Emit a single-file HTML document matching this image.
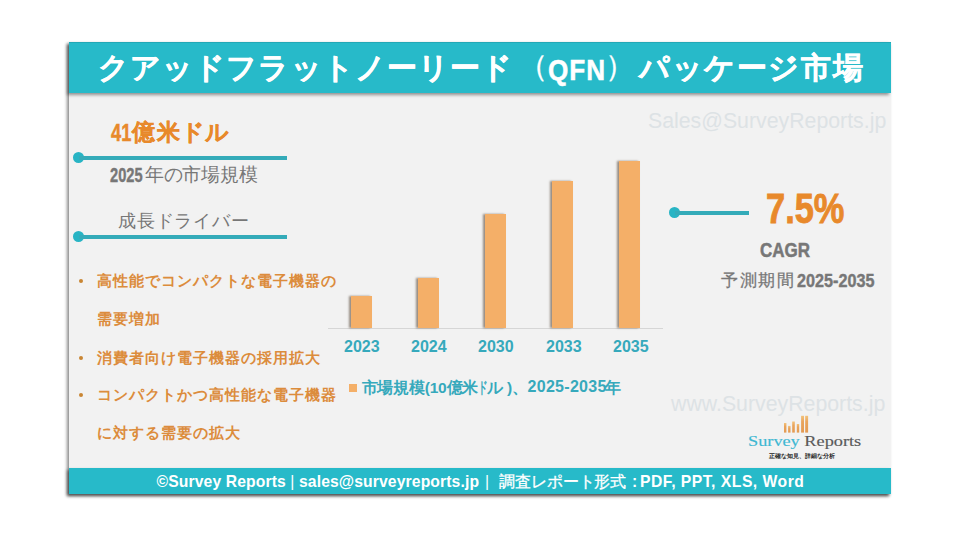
<!DOCTYPE html>
<html><head><meta charset="utf-8">
<style>
html,body{margin:0;padding:0;background:#fff;width:960px;height:540px;overflow:hidden;font-family:"Liberation Sans",sans-serif;}
.abs{position:absolute;white-space:nowrap;line-height:1;}
.sx{display:inline-block;transform-origin:0 0;}
#card{position:absolute;left:69px;top:42px;width:822px;height:452px;background:#f2f2f2;box-shadow:-2px 2px 3px rgba(0,0,0,0.45);}
#hdr{position:absolute;left:69px;top:42px;width:822px;height:51px;background:#27bac9;box-shadow:-2px 2px 3px rgba(0,0,0,0.4), inset 0 1px 0 rgba(0,40,50,0.12);}
#ftr{position:absolute;left:69px;top:468px;width:822px;height:26px;background:#27bac9;box-shadow:-2px 2px 3px rgba(0,0,0,0.45);}
.title{left:98px;top:53px;font-size:30px;font-weight:bold;color:#fff;letter-spacing:1.1px;-webkit-text-stroke:0.35px #fff;}
.dot{position:absolute;width:11px;height:11px;border-radius:50%;background:#28b4c4;}
.line{position:absolute;height:4px;background:#34abb9;}
.orange{color:#e8892b;}
.bul{font-size:15px;font-weight:bold;color:#dc8c3c;letter-spacing:1.03px;}
.bdot{position:absolute;width:4px;height:4px;border-radius:50%;background:#c98633;}
.bar{position:absolute;width:21px;background:#f4af68;box-shadow:-2px 0 2px rgba(60,40,20,0.5);}
.yr{font-size:16px;font-weight:bold;color:#36a9bc;margin-top:1px;}
.wm{font-size:21.3px;color:#dde2e5;}
</style></head><body>
<div id="card"></div>
<div id="hdr"></div>
<div class="abs title">クアッドフラットノーリード</div>
<div class="abs title" style="left:517.5px;top:51px;font-weight:normal;">（</div>
<div class="abs title" style="left:548px;top:54.5px;-webkit-text-stroke:0.5px #fff;"><span class="sx" style="transform:scaleX(0.87)">QFN</span></div>
<div class="abs title" style="left:605px;top:51px;font-weight:normal;">）</div>
<div class="abs title" style="left:639px;letter-spacing:1.6px;">パッケージ市場</div>

<!-- 41億米ドル -->
<div class="abs orange" style="left:110.5px;top:120.5px;font-size:24px;font-weight:bold;-webkit-text-stroke:0.5px #e8892b;"><span class="sx" style="transform:scaleX(0.76)">41</span></div>
<div class="abs orange" style="left:132px;top:121px;font-size:23px;font-weight:bold;letter-spacing:2px;-webkit-text-stroke:0.3px #e8892b;">億米</div>
<div class="abs orange" style="left:181px;top:121px;font-size:23px;font-weight:bold;letter-spacing:0px;-webkit-text-stroke:0.3px #e8892b;">ドル</div>
<div class="dot" style="left:73px;top:152px;"></div>
<div class="line" style="left:79px;top:156px;width:208px;"></div>
<div class="abs" style="left:110px;top:166px;font-size:19.5px;font-weight:bold;color:#777;-webkit-text-stroke:0.4px #777;"><span class="sx" style="transform:scaleX(0.75);width:32px;">2025</span></div>
<div class="abs" style="left:145px;top:166px;font-size:18.5px;color:#777;letter-spacing:-0.3px;">年の市場規模</div>
<div class="abs" style="left:118px;top:212.5px;font-size:17.5px;color:#777;letter-spacing:0.75px;">成長ドライバー</div>
<div class="dot" style="left:73px;top:231px;"></div>
<div class="line" style="left:79px;top:235px;width:208px;"></div>

<div class="bdot" style="left:79px;top:279px;"></div>
<div class="abs bul" style="left:97px;top:273px;">高性能でコンパクトな電子機器の</div>
<div class="abs bul" style="left:97px;top:311px;">需要増加</div>
<div class="bdot" style="left:79px;top:356px;"></div>
<div class="abs bul" style="left:97px;top:350px;">消費者向け電子機器の採用拡大</div>
<div class="bdot" style="left:79px;top:393px;"></div>
<div class="abs bul" style="left:97px;top:387px;">コンパクトかつ高性能な電子機器</div>
<div class="abs bul" style="left:97px;top:425px;">に対する需要の拡大</div>

<div class="abs" style="left:328px;top:328px;width:335px;height:1px;background:#d6d6d6;"></div>
<div class="bar" style="left:351px;top:296px;height:32px;"></div>
<div class="bar" style="left:418px;top:278px;height:50px;"></div>
<div class="bar" style="left:485px;top:214px;height:114px;"></div>
<div class="bar" style="left:552px;top:181px;height:147px;"></div>
<div class="bar" style="left:619px;top:161px;height:167px;"></div>
<div class="abs yr" style="left:344px;top:338px;">2023</div>
<div class="abs yr" style="left:411px;top:338px;">2024</div>
<div class="abs yr" style="left:478px;top:338px;">2030</div>
<div class="abs yr" style="left:546px;top:338px;">2033</div>
<div class="abs yr" style="left:613px;top:338px;">2035</div>
<div class="abs" style="left:349px;top:384px;width:8px;height:8px;background:#f4af68;"></div>
<div class="abs" style="left:361.5px;top:380px;font-size:15.5px;font-weight:bold;color:#36a9bc;letter-spacing:-0.2px;">市場規模(10億米<span class="sx" style="transform:scaleX(0.6);width:9px">ド</span>ル<span style="margin-left:4px">)、</span></div>
<div class="abs" style="left:527.5px;top:379px;font-size:16px;font-weight:bold;color:#36a9bc;letter-spacing:0.3px;">2025-2035</div>
<div class="abs" style="left:605px;top:380px;font-size:16px;font-weight:bold;color:#36a9bc;">年</div>

<div class="abs wm" style="left:648px;top:111px;">Sales@SurveyReports.jp</div>

<div class="dot" style="left:669px;top:207px;"></div>
<div class="line" style="left:675px;top:211px;width:74px;"></div>
<div class="abs orange" style="left:765.5px;top:187px;font-size:43px;font-weight:bold;-webkit-text-stroke:0.9px #e8892b;"><span class="sx" style="transform:scaleX(0.8)">7.5%</span></div>
<div class="abs" style="left:760px;top:240px;font-size:20px;font-weight:bold;color:#777;-webkit-text-stroke:0.5px #777;"><span class="sx" style="transform:scaleX(0.85)">CAGR</span></div>
<div class="abs" style="left:721px;top:272px;font-size:17px;color:#777;letter-spacing:1.5px;-webkit-text-stroke:0.25px #777;">予測期間</div>
<div class="abs" style="left:797px;top:273px;font-size:17.6px;font-weight:bold;color:#777;-webkit-text-stroke:0.4px #777;"><span class="sx" style="transform:scaleX(0.92)">2025-2035</span></div>

<div class="abs wm" style="left:671px;top:393.5px;">www.SurveyReports.jp</div>

<svg class="abs" style="left:782px;top:413px;" width="28" height="21" viewBox="0 0 28 21">
  <defs><linearGradient id="g" x1="0" y1="0" x2="0" y2="1"><stop offset="0" stop-color="#f3c27a"/><stop offset="0.35" stop-color="#e9a45c"/><stop offset="1" stop-color="#e39a52"/></linearGradient></defs>
  <g fill="url(#g)">
    <rect x="2" y="10" width="2.4" height="9.6"/>
    <rect x="6.1" y="12.9" width="2.4" height="6.7"/>
    <rect x="10.2" y="8.5" width="2.6" height="11.1"/>
    <rect x="14.8" y="11" width="2.4" height="8.6"/>
    <rect x="19.1" y="2.8" width="2.9" height="16.8"/>
    <rect x="23.2" y="2.8" width="2.9" height="16.8"/>
  </g>
</svg>
<div class="abs" style="left:748px;top:434px;font-size:14.5px;font-family:'Liberation Serif',serif;-webkit-text-stroke:0.15px;"><span class="sx" style="transform:scaleX(1.26)"><span style="color:#3fb8d2">Survey</span> <span style="color:#5a5a5a">Reports</span></span></div>
<div class="abs" style="left:769px;top:453.5px;font-size:5.5px;font-weight:bold;color:#1a1a1a;">正確な知見、詳細な分析</div>

<div id="ftr"></div>
<div class="abs" style="left:156.5px;top:473.5px;font-size:15.7px;font-weight:bold;color:#fff;letter-spacing:0.12px;">©Survey Reports <span style="font-weight:normal">|</span> sales@surveyreports.jp <span style="font-weight:normal;margin-left:1.5px">|</span></div>
<div class="abs" style="left:499px;top:472.5px;font-size:16.3px;color:#fff;letter-spacing:-0.1px;-webkit-text-stroke:0.3px #fff;">調査レポート形式</div>
<div class="abs" style="left:632px;top:473.5px;font-size:15.7px;font-weight:bold;color:#fff;">:</div>
<div class="abs" style="left:640px;top:473.5px;font-size:15.7px;font-weight:bold;color:#fff;letter-spacing:0.5px;">PDF, PPT, XLS, Word</div>
</body></html>
